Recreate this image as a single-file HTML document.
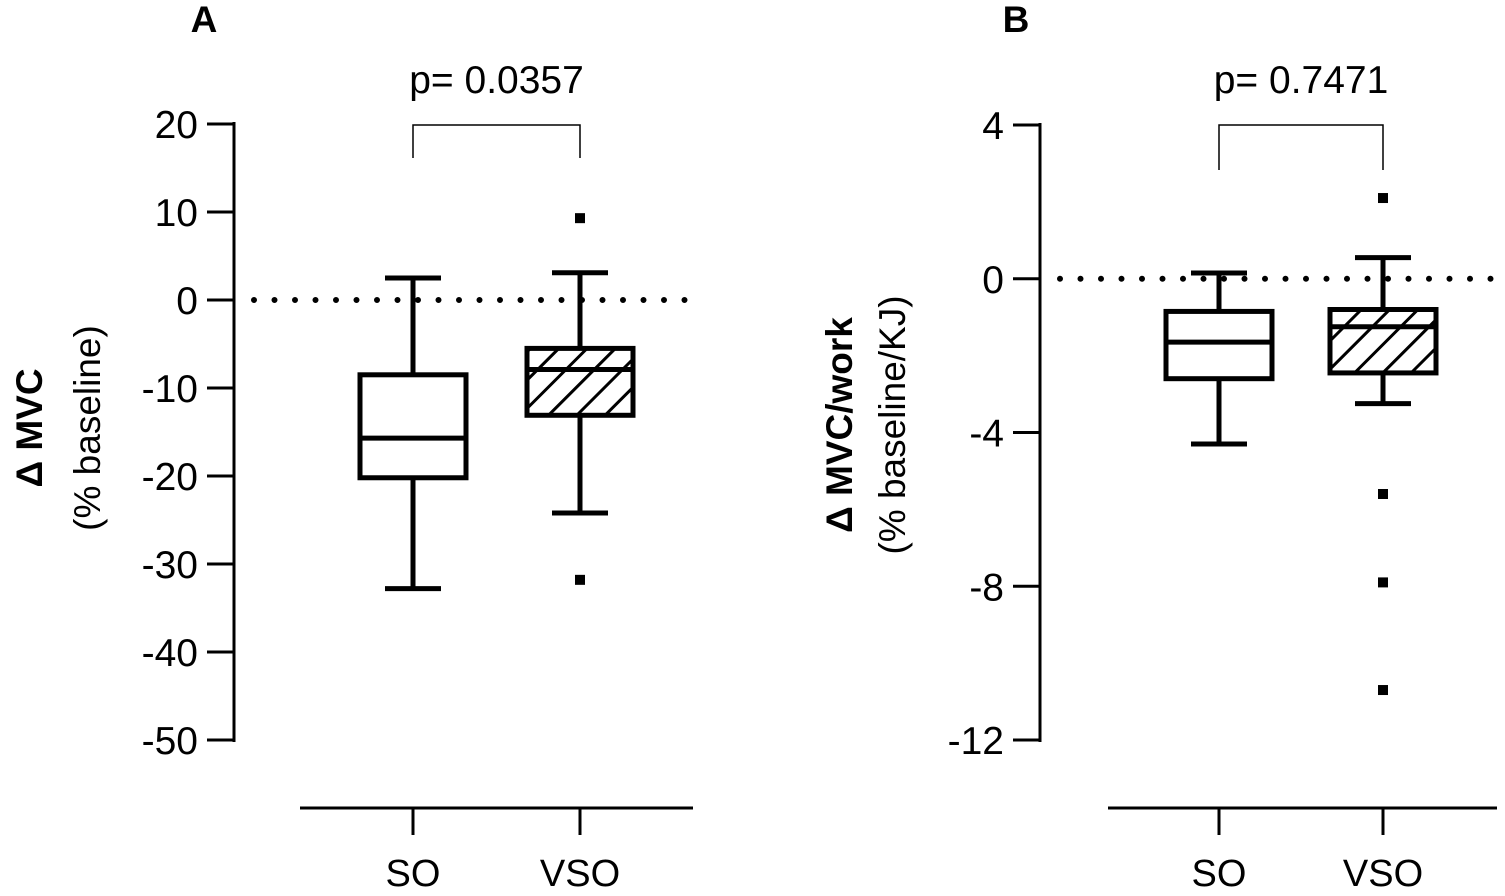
<!DOCTYPE html>
<html><head><meta charset="utf-8"><style>
html,body{margin:0;padding:0;background:#fff;}
svg{display:block;font-family:"Liberation Sans",sans-serif;}
</style></head><body>
<svg id="c" width="1505" height="896" viewBox="0 0 1505 896" xmlns="http://www.w3.org/2000/svg">
<defs>
<pattern id="hatch" patternUnits="userSpaceOnUse" width="20" height="20" patternTransform="rotate(45)">
<rect width="20" height="20" fill="#fff"/>
<line x1="0" y1="0" x2="0" y2="20" stroke="#000" stroke-width="6"/>
</pattern>
</defs>
</svg>
<script>
const categories = ["SO","VSO"];
const ticksA = [20,10,0,-10,-20,-30,-40,-50];
const ticksB = [4,0,-4,-8,-12];
// [whiskerLow, q1, median, q3, whiskerHigh]
const boxesA = [[-32.8,-20.2,-15.7,-8.5,2.5],[-24.2,-13.1,-7.9,-5.5,3.1]];
const outliersA = [[],[9.3,-31.8]];
const boxesB = [[-4.3,-2.6,-1.65,-0.85,0.15],[-3.25,-2.45,-1.25,-0.8,0.55]];
const outliersB = [[],[2.1,-5.6,-7.9,-10.7]];
const pvals = ["p= 0.0357","p= 0.7471"];

const svg = document.getElementById('c');
const NS = "http://www.w3.org/2000/svg";
function mk(tag, attrs, parent){const e=document.createElementNS(NS,tag);for(const k in attrs)e.setAttribute(k,attrs[k]);(parent||svg).appendChild(e);return e;}

function panel(cfg){
  const g = mk('g',{});
  
  
  const y = v => cfg.y0 + (cfg.max - v)/(cfg.max-cfg.min)*(cfg.y1-cfg.y0);
  const L = mk('text',{x:cfg.lx,y:32,'font-size':37,'font-weight':'bold','text-anchor':'middle'},g);
  L.textContent = cfg.letter;
  
  
  const ya = mk('line',{x1:cfg.ax,y1:y(cfg.max)-2,x2:cfg.ax,y2:y(cfg.min)+2,stroke:'#000','stroke-width':3},g);
  
  
  cfg.ticks.forEach(t=>{
    mk('line',{x1:cfg.ax-27,y1:y(t),x2:cfg.ax,y2:y(t),stroke:'#000','stroke-width':3},g);
    const tx = mk('text',{x:cfg.ax-36,y:y(t)+14,'font-size':39,'text-anchor':'end'},g);
    tx.textContent = t;
    
    
  });
  const t1 = mk('text',{transform:`translate(${cfg.tb1},${cfg.tc}) rotate(-90)`,'text-anchor':'middle','font-size':37,'font-weight':'bold'},g);
  t1.textContent = cfg.title1;
  
  
  const t2 = mk('text',{transform:`translate(${cfg.tb2},${cfg.tc}) rotate(-90)`,'text-anchor':'middle','font-size':37},g);
  t2.textContent = cfg.title2;
  
  
  const zl = mk('line',{x1:cfg.ax+20,y1:y(0),x2:cfg.xr,y2:y(0),stroke:'#000','stroke-width':6,'stroke-dasharray':'0 20.5','stroke-linecap':'round'},g);
  
  
  const xa = mk('line',{x1:cfg.xl,y1:808,x2:cfg.xr+5,y2:808,stroke:'#000','stroke-width':3},g);
  
  
  categories.forEach((c,i)=>{
    const cx = cfg.cx[i];
    mk('line',{x1:cx,y1:808,x2:cx,y2:835,stroke:'#000','stroke-width':3},g);
    const lt = mk('text',{x:cx,y:886,'font-size':38,'text-anchor':'middle'},g);
    lt.textContent = c;
    
    
    const b = cfg.boxes[i];
    const bg = mk('g',{},g);
    
    
    const hw = 53;
    mk('line',{x1:cx,y1:y(b[4]),x2:cx,y2:y(b[0]),stroke:'#000','stroke-width':5},bg);
    mk('line',{x1:cx-28,y1:y(b[4]),x2:cx+28,y2:y(b[4]),stroke:'#000','stroke-width':5},bg);
    mk('line',{x1:cx-28,y1:y(b[0]),x2:cx+28,y2:y(b[0]),stroke:'#000','stroke-width':5},bg);
    mk('rect',{x:cx-hw,y:y(b[3]),width:2*hw,height:y(b[1])-y(b[3]),fill:i==1?'url(#hatch)':'#fff',stroke:'#000','stroke-width':5},bg);
    mk('line',{x1:cx-hw,y1:y(b[2]),x2:cx+hw,y2:y(b[2]),stroke:'#000','stroke-width':5},bg);
    cfg.out[i].forEach(v=>{
      const p = mk('rect',{x:cx-5,y:y(v)-5,width:10,height:10,fill:'#000'},g);
      
      
    });
  });
  const br = mk('path',{d:`M${cfg.cx[0]},${cfg.bb} V125 H${cfg.cx[1]} V${cfg.bb}`,fill:'none',stroke:'#000','stroke-width':1.5},g);
  
  
  const pv = mk('text',{x:(cfg.cx[0]+cfg.cx[1])/2,y:93,'font-size':39,'text-anchor':'middle'},g);
  pv.textContent = cfg.p;
  
  
}
panel({letter:'A',lx:204,ax:234,y0:124,y1:740,max:20,min:-50,ticks:ticksA,tb1:42,tb2:100,tc:428,title1:'\u0394 MVC',title2:'(% baseline)',
  xl:300,xr:688,cx:[413,580],boxes:boxesA,out:outliersA,bb:158,p:pvals[0]});
panel({letter:'B',lx:1016,ax:1040,y0:125,y1:740,max:4,min:-12,ticks:ticksB,tb1:852,tb2:905,tc:425,title1:'\u0394 MVC/work',title2:'(% baseline/KJ)',
  xl:1108,xr:1492,cx:[1219,1383],boxes:boxesB,out:outliersB,bb:170,p:pvals[1]});
</script>
</body></html>
